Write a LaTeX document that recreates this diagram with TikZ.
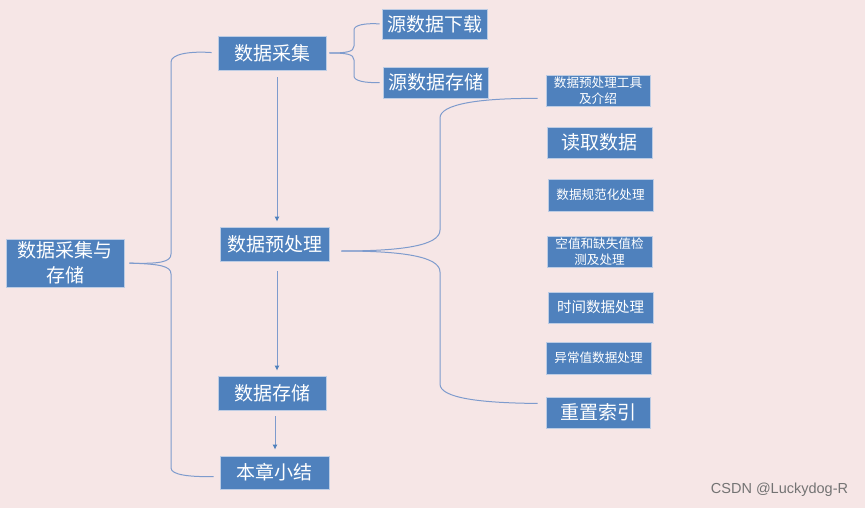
\documentclass[tikz,border=0pt]{standalone}
\usepackage{fontspec}
\newfontfamily\cjk{Noto Sans CJK SC}
\newfontfamily\wmfont{Liberation Sans}
\usetikzlibrary{arrows.meta}
\definecolor{bgpink}{RGB}{246,230,230}
\definecolor{boxblue}{RGB}{79,129,189}
\definecolor{boxrim}{RGB}{188,204,228}
\definecolor{linkblue}{RGB}{126,155,205}

\begin{document}
\begin{tikzpicture}[x=1pt, y=-1pt,
  box/.style={fill=boxblue, draw=boxrim, line width=0.8pt, text=white, inner sep=0pt, align=center},
  big/.style={font=\cjk\fontsize{19}{25}\selectfont},
  mid/.style={font=\cjk\fontsize{14.5}{17}\selectfont},
  small/.style={font=\cjk\fontsize{12.6}{16}\selectfont},
  brace/.style={draw=linkblue, line width=1pt},
  arr/.style={draw=linkblue, line width=0.9pt, -{Latex[length=5pt,width=5pt,color=boxblue]}}]

\fill[bgpink] (0,0) rectangle (865,508);
\useasboundingbox (0,0) rectangle (865,508);

\node[box, big, minimum width=118pt, minimum height=48pt] (root) at (65,263) {数据采集与\\存储};

\node[box, big, minimum width=108pt, minimum height=34pt] (caiji) at (272,53) {数据采集};
\node[box, big, minimum width=105pt, minimum height=30pt] (xiazai) at (434.5,24) {源数据下载};
\node[box, big, minimum width=105pt, minimum height=31pt] (yuancun) at (435.5,82.5) {源数据存储};
\node[box, big, minimum width=109pt, minimum height=34pt] (yuchuli) at (274.5,244) {数据预处理};
\node[box, big, minimum width=108pt, minimum height=34pt] (cunchu) at (272,393) {数据存储};
\node[box, big, minimum width=109pt, minimum height=33pt] (xiaojie) at (274.5,472.5) {本章小结};

\node[box, small, minimum width=104pt, minimum height=31pt] (gongju) at (598,90.5) {数据预处理工具\\及介绍};
\node[box, big, minimum width=105pt, minimum height=31pt] (duqu) at (599.5,142.5) {读取数据};
\node[box, small, minimum width=105pt, minimum height=32pt] (guifan) at (600.5,195) {数据规范化处理};
\node[box, small, minimum width=105pt, minimum height=31pt] (queshi) at (599.5,251.5) {空值和缺失值检\\测及处理};
\node[box, mid, minimum width=105pt, minimum height=31pt] (shijian) at (600.5,307.5) {时间数据处理};
\node[box, small, minimum width=105pt, minimum height=32pt] (yichang) at (598.5,358) {异常值数据处理};
\node[box, big, minimum width=104pt, minimum height=31pt] (suoyin) at (598,412.5) {重置索引};

\draw[brace, shorten <=5pt, shorten >=6pt] (root.east) .. controls (160,264) and (171,262) .. (171,254) -- (171,62) .. controls (171,54) and (190,51) .. (caiji.west);
\draw[brace, shorten <=5pt, shorten >=6pt] (root.east) .. controls (160,264) and (171,266) .. (171,274) -- (171,468) .. controls (171,475) and (190,477) .. ([yshift=-4pt]xiaojie.west);

\draw[brace, shorten <=3pt, shorten >=2pt] (caiji.east) .. controls (346,53) and (354,52) .. (354,46) -- (354,30) .. controls (354,25) and (365,23) .. (xiazai.west);
\draw[brace, shorten <=3pt, shorten >=3pt] (caiji.east) .. controls (346,53) and (354,54) .. (354,60) -- (354,76) .. controls (354,81) and (365,83) .. (yuancun.west);

\draw[brace, shorten <=12pt, shorten >=8pt] ([yshift=-7pt]yuchuli.east) .. controls (400,251) and (440,246) .. (440,230) -- (440,118) .. controls (440,104) and (480,98) .. ([yshift=-8pt]gongju.west);
\draw[brace, shorten <=12pt, shorten >=8pt] ([yshift=-7pt]yuchuli.east) .. controls (400,251) and (440,256) .. (440,272) -- (440,384) .. controls (440,398) and (480,403) .. ([yshift=9pt]suoyin.west);

\draw[arr, shorten <=7pt, shorten >=5pt] ([xshift=5pt]caiji.south) -- ([xshift=2.5pt]yuchuli.north);
\draw[arr, shorten <=10pt, shorten >=5pt] ([xshift=2.5pt]yuchuli.south) -- ([xshift=5pt]cunchu.north);
\draw[arr, shorten <=6pt, shorten >=6pt] ([xshift=3pt]cunchu.south) -- ([xshift=0.5pt]xiaojie.north);

\node[text=black!55, font=\wmfont\fontsize{14.5}{17}\selectfont] (wm) at (779.5,490) {CSDN @Luckydog-R};

\end{tikzpicture}
\end{document}
